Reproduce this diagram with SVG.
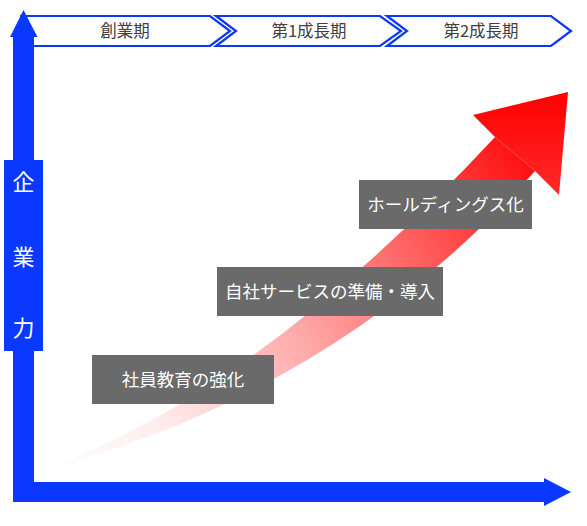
<svg xmlns="http://www.w3.org/2000/svg" width="587" height="526" viewBox="0 0 587 526">
<defs>
<style>
.chev{fill:#ffffff;stroke:#0a38f5;stroke-width:2.2;stroke-linejoin:miter}
.ct{font-family:"Noto Sans CJK JP","Noto Sans",sans-serif;font-size:16.5px;fill:#404040;text-anchor:middle}
.box{fill:#6a6a6a}
.bt{font-family:"Noto Sans CJK JP","Noto Sans",sans-serif;font-size:17.5px;fill:#ffffff;text-anchor:middle}
.axis{fill:#0a38ff}
.yt{font-family:"Noto Sans CJK JP","Noto Sans",sans-serif;font-size:22px;fill:#ffffff;text-anchor:middle}
</style>
<linearGradient id="rg" gradientUnits="userSpaceOnUse" x1="45" y1="470" x2="540" y2="130">
<stop offset="0" stop-color="#ff0000" stop-opacity="0"/>
<stop offset="0.2" stop-color="#ff0000" stop-opacity="0.07"/>
<stop offset="0.47" stop-color="#ff0000" stop-opacity="0.33"/>
<stop offset="0.72" stop-color="#ff0000" stop-opacity="0.63"/>
<stop offset="1" stop-color="#ff0000" stop-opacity="1"/>
</linearGradient>
<linearGradient id="hg" x1="0" y1="0" x2="0" y2="1">
<stop offset="0" stop-color="#ff0000"/>
<stop offset="1" stop-color="#ff2a2a"/>
</linearGradient>
</defs>
<rect width="587" height="526" fill="#ffffff"/>
<g id="growth-arrow">
<path d="M45 470 Q260 390 495 137 L535 171 Q340 390 45 470 Z" fill="url(#rg)"/>
<path d="M495 137 L473 115 L568 92 L559 195 L535 171 Z" fill="url(#hg)"/>
</g>
<g id="phase1">
<path class="chev" d="M20 16 L210 16 L230 31 L210 46 L20 46"/>
<text class="ct" x="125" y="37">創業期</text>
</g>
<g id="phase2">
<path class="chev" d="M216 16 L380 16 L401 31 L380 46 L216 46 L236 31 Z"/>
<text class="ct" x="309" y="37">第1成長期</text>
</g>
<g id="phase3">
<path class="chev" d="M387 16 L551 16 L571 31 L551 46 L387 46 L407 31 Z"/>
<text class="ct" x="481" y="37">第2成長期</text>
</g>
<g id="connectors">
<path class="axis" d="M23.5 10 L37.5 37 L34 37 L34 482 L544 482 L544 478 L571 492 L544 506 L544 502 L13 502 L13 37 L10 37 Z"/>
</g>
<g id="y-label">
<rect class="axis" x="4" y="160" width="39" height="191"/>
<text class="yt" x="23.5" y="190">企</text>
<text class="yt" x="23.5" y="265">業</text>
<text class="yt" x="23.5" y="336">力</text>
</g>
<g id="step1">
<rect class="box" x="92" y="355" width="182" height="49"/>
<text class="bt" x="183" y="386">社員教育の強化</text>
</g>
<g id="step2">
<rect class="box" x="217" y="267" width="226" height="49"/>
<text class="bt" x="330" y="298">自社サービスの準備・導入</text>
</g>
<g id="step3">
<rect class="box" x="359" y="180" width="173" height="49"/>
<text class="bt" x="445.5" y="211">ホールディングス化</text>
</g>
</svg>
